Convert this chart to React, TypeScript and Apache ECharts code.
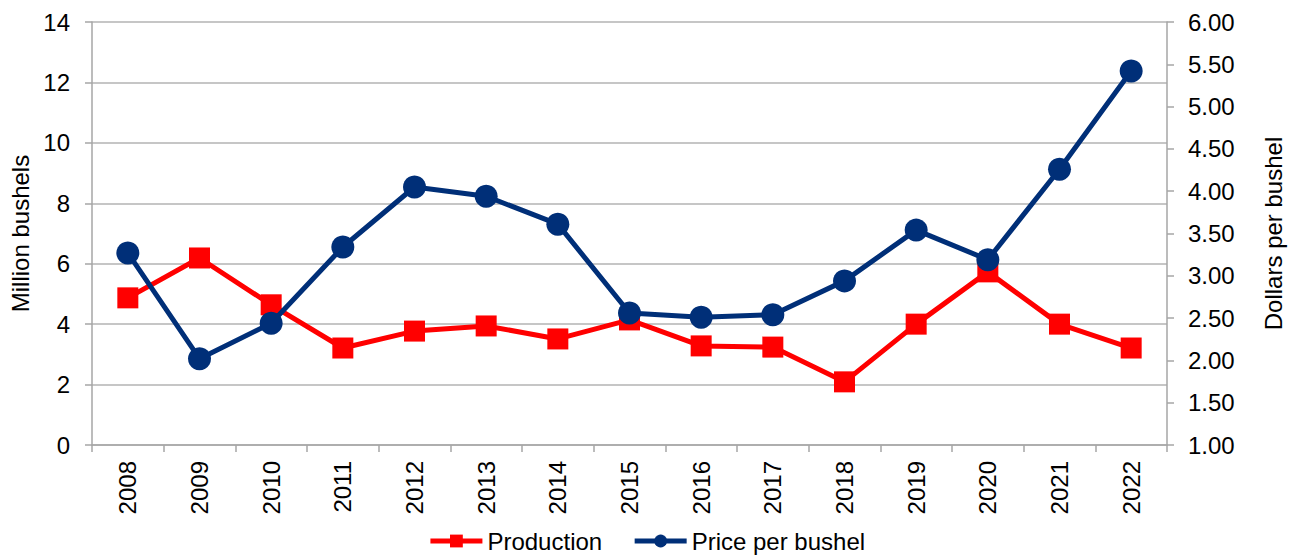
import React, { useEffect, useRef } from "react";
import * as echarts from "echarts";

const years = ["2008", "2009", "2010", "2011", "2012", "2013", "2014", "2015", "2016", "2017", "2018", "2019", "2020", "2021", "2022"];
const production = [4.87, 6.19, 4.64, 3.21, 3.77, 3.94, 3.51, 4.14, 3.28, 3.24, 2.09, 4.0, 5.73, 4.0, 3.21];
const price = [3.27, 2.02, 2.44, 3.34, 4.05, 3.94, 3.61, 2.56, 2.51, 2.54, 2.94, 3.54, 3.19, 4.26, 5.42];

const FONT = "Liberation Sans, Arial, sans-serif";
const AXIS_GREY = "#a6a6a6";
const FS = 24;

export default function App() {
  const ref = useRef<HTMLDivElement>(null);
  useEffect(() => {
    if (!ref.current) return;
    const chart = echarts.init(ref.current, undefined, { renderer: "svg" });
    chart.setOption({
      animation: false,
      textStyle: { fontFamily: FONT },
      grid: { left: 92, right: 122, top: 22, bottom: 112, containLabel: false },
      legend: {
        bottom: -1,
        left: "center",
        itemWidth: 52,
        itemHeight: 16,
        itemGap: 30,
        lineStyle: { width: 5 },
        textStyle: { fontSize: FS, color: "#000", fontFamily: FONT },
        data: ["Production", "Price per bushel"],
      },
      xAxis: {
        type: "category",
        data: years,
        boundaryGap: true,
        axisLine: { lineStyle: { color: AXIS_GREY, width: 1.5 } },
        axisTick: { show: true, length: 7, lineStyle: { color: AXIS_GREY, width: 1.5 } },
        axisLabel: { rotate: 90, fontSize: FS, color: "#000", margin: 16, fontFamily: FONT },
      },
      yAxis: [
        {
          type: "value",
          min: 0,
          max: 14,
          interval: 2,
          name: "Million bushels",
          nameLocation: "middle",
          nameRotate: 90,
          nameGap: 57,
          nameTextStyle: { fontSize: FS, color: "#000", fontFamily: FONT },
          axisLine: { show: true, lineStyle: { color: AXIS_GREY, width: 1.5 } },
          axisTick: { show: true, length: 7, lineStyle: { color: AXIS_GREY, width: 1.5 } },
          axisLabel: { fontSize: FS, color: "#000", margin: 22, fontFamily: FONT },
          splitLine: { show: true, lineStyle: { color: "#b3b3b3", width: 1.5 } },
        },
        {
          type: "value",
          min: 1,
          max: 6,
          interval: 0.5,
          position: "right",
          name: "Dollars per bushel",
          nameLocation: "middle",
          nameRotate: 90,
          nameGap: 94,
          nameTextStyle: { fontSize: FS, color: "#000", fontFamily: FONT },
          axisLine: { show: true, lineStyle: { color: AXIS_GREY, width: 1.5 } },
          axisTick: { show: true, length: 7, lineStyle: { color: AXIS_GREY, width: 1.5 } },
          axisLabel: {
            fontSize: FS,
            color: "#000",
            margin: 21,
            fontFamily: FONT,
            formatter: (v: number) => v.toFixed(2),
          },
          splitLine: { show: false },
        },
      ],
      series: [
        {
          name: "Production",
          type: "line",
          yAxisIndex: 0,
          data: production,
          symbol: "rect",
          symbolSize: 21,
          lineStyle: { color: "#ff0000", width: 5 },
          itemStyle: { color: "#ff0000" },
          z: 2,
        },
        {
          name: "Price per bushel",
          type: "line",
          yAxisIndex: 1,
          data: price,
          symbol: "circle",
          symbolSize: 23,
          lineStyle: { color: "#002f78", width: 5 },
          itemStyle: { color: "#002f78" },
          z: 3,
        },
      ],
    });
    return () => chart.dispose();
  }, []);
  return <div ref={ref} style={{ width: 1293, height: 557, position: "absolute", left: 0, top: 0 }} />;
}
